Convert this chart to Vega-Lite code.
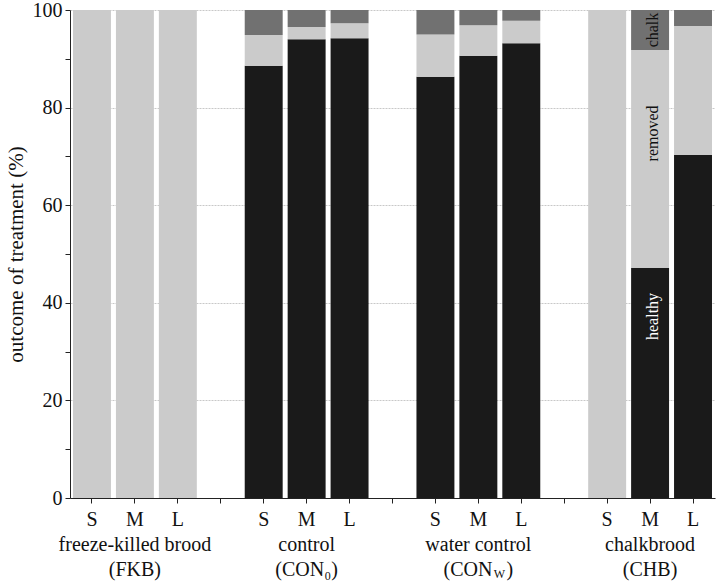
{
  "$schema": "https://vega.github.io/schema/vega-lite/v6.json",
  "width": 645,
  "height": 488,
  "autosize": "none",
  "padding": {"left": 70, "top": 10, "right": 3, "bottom": 88},
  "background": "white",
  "config": {
    "view": {"stroke": null},
    "font": "Liberation Serif",
    "axis": {"labelFont": "Liberation Serif", "titleFont": "Liberation Serif", "labelColor": "#111", "titleColor": "#111", "domainColor": "#222", "tickColor": "#222", "titleFontWeight": "normal"}
  },
  "datasets": {
    "bars": [
      {"slot": "FKB-S", "outcome": "healthy", "pct": 0},
      {"slot": "FKB-S", "outcome": "removed", "pct": 100},
      {"slot": "FKB-S", "outcome": "chalk", "pct": 0},
      {"slot": "FKB-M", "outcome": "healthy", "pct": 0},
      {"slot": "FKB-M", "outcome": "removed", "pct": 100},
      {"slot": "FKB-M", "outcome": "chalk", "pct": 0},
      {"slot": "FKB-L", "outcome": "healthy", "pct": 0},
      {"slot": "FKB-L", "outcome": "removed", "pct": 100},
      {"slot": "FKB-L", "outcome": "chalk", "pct": 0},
      {"slot": "CON0-S", "outcome": "healthy", "pct": 88.6},
      {"slot": "CON0-S", "outcome": "removed", "pct": 6.3},
      {"slot": "CON0-S", "outcome": "chalk", "pct": 5.1},
      {"slot": "CON0-M", "outcome": "healthy", "pct": 94.0},
      {"slot": "CON0-M", "outcome": "removed", "pct": 2.5},
      {"slot": "CON0-M", "outcome": "chalk", "pct": 3.5},
      {"slot": "CON0-L", "outcome": "healthy", "pct": 94.2},
      {"slot": "CON0-L", "outcome": "removed", "pct": 3.1},
      {"slot": "CON0-L", "outcome": "chalk", "pct": 2.7},
      {"slot": "CONW-S", "outcome": "healthy", "pct": 86.3},
      {"slot": "CONW-S", "outcome": "removed", "pct": 8.7},
      {"slot": "CONW-S", "outcome": "chalk", "pct": 5.0},
      {"slot": "CONW-M", "outcome": "healthy", "pct": 90.6},
      {"slot": "CONW-M", "outcome": "removed", "pct": 6.3},
      {"slot": "CONW-M", "outcome": "chalk", "pct": 3.1},
      {"slot": "CONW-L", "outcome": "healthy", "pct": 93.2},
      {"slot": "CONW-L", "outcome": "removed", "pct": 4.6},
      {"slot": "CONW-L", "outcome": "chalk", "pct": 2.2},
      {"slot": "CHB-S", "outcome": "healthy", "pct": 0},
      {"slot": "CHB-S", "outcome": "removed", "pct": 100},
      {"slot": "CHB-S", "outcome": "chalk", "pct": 0},
      {"slot": "CHB-M", "outcome": "healthy", "pct": 47.2},
      {"slot": "CHB-M", "outcome": "removed", "pct": 44.6},
      {"slot": "CHB-M", "outcome": "chalk", "pct": 8.2},
      {"slot": "CHB-L", "outcome": "healthy", "pct": 70.3},
      {"slot": "CHB-L", "outcome": "removed", "pct": 26.4},
      {"slot": "CHB-L", "outcome": "chalk", "pct": 3.3}
    ],
    "labels": [
      {"slot": "CHB-M", "label": "healthy", "pos": 37.2, "outcome": "healthy"},
      {"slot": "CHB-M", "label": "removed", "pos": 74.7, "outcome": "removed"},
      {"slot": "CHB-M", "label": "chalk", "pos": 95.9, "outcome": "chalk"}
    ],
    "subs": [
      {"slot": "CONW-M", "sub": "W"}
    ]
  },
  "encoding": {
    "x": {
      "field": "slot",
      "type": "nominal",
      "scale": {
        "domain": ["FKB-S", "FKB-M", "FKB-L", "gap1", "CON0-S", "CON0-M", "CON0-L", "gap2", "CONW-S", "CONW-M", "CONW-L", "gap3", "CHB-S", "CHB-M", "CHB-L"],
        "paddingInner": 0.116,
        "paddingOuter": 0.07
      },
      "axis": {
        "title": null,
        "labelAngle": 0,
        "labelFontSize": 20,
        "labelLineHeight": 25,
        "labelBaseline": "top",
        "labelPadding": 6,
        "labelOverlap": false,
        "labelBound": false,
        "tickSize": 5,
        "domainWidth": 1,
        "labelExpr": "datum.value == 'FKB-M' ? ['M', 'freeze-killed brood', '(FKB)'] : datum.value == 'CON0-M' ? ['M', 'control', '(CON\u2080)'] : datum.value == 'CONW-M' ? ['M', 'water control', '(CON\u2002\u2009)'] : datum.value == 'CHB-M' ? ['M', 'chalkbrood', '(CHB)'] : indexof(datum.value, 'gap') == 0 ? '' : slice(datum.value, -1)"
      }
    }
  },
  "layer": [
    {
      "data": {"name": "bars"},
      "transform": [
        {"calculate": "indexof(['healthy', 'removed', 'chalk'], datum.outcome)", "as": "stackOrder"}
      ],
      "mark": {"type": "bar"},
      "encoding": {
        "y": {
          "field": "pct",
          "type": "quantitative",
          "stack": "zero",
          "scale": {"domain": [0, 100], "nice": false},
          "axis": {
            "title": "outcome of treatment (%)",
            "titleFontSize": 21,
            "titlePadding": 6,
            "values": [0, 10, 20, 30, 40, 50, 60, 70, 80, 90, 100],
            "labelExpr": "datum.value % 20 == 0 ? datum.label : ''",
            "labelFontSize": 20,
            "labelPadding": 3,
            "tickSize": 5,
            "grid": true,
            "gridColor": "#c8c8c8",
            "gridDash": [2, 1],
            "gridWidth": 1,
            "gridOpacity": {"condition": {"test": "datum.value % 20 == 0 && datum.value > 0", "value": 1}, "value": 0}
          }
        },
        "order": {"field": "stackOrder", "type": "quantitative", "sort": "ascending"},
        "color": {
          "field": "outcome",
          "type": "nominal",
          "scale": {"domain": ["healthy", "removed", "chalk"], "range": ["#1a1a1a", "#cbcbcb", "#717171"]},
          "legend": null
        }
      }
    },
    {
      "data": {"name": "labels"},
      "mark": {"type": "text", "angle": 270, "align": "center", "baseline": "middle", "fontSize": 16, "dy": 3, "font": "Liberation Serif"},
      "encoding": {
        "y": {"field": "pos", "type": "quantitative"},
        "text": {"field": "label"},
        "color": {
          "field": "outcome",
          "type": "nominal",
          "scale": {"domain": ["healthy", "removed", "chalk"], "range": ["#ffffff", "#111111", "#111111"]},
          "legend": null
        }
      }
    },
    {
      "data": {"name": "subs"},
      "mark": {"type": "text", "align": "center", "baseline": "alphabetic", "fontSize": 12, "dx": 21, "dy": 80, "color": "#111", "font": "Liberation Serif"},
      "encoding": {
        "y": {"datum": 0},
        "text": {"field": "sub"}
      }
    }
  ],
  "resolve": {"scale": {"color": "independent"}}
}
